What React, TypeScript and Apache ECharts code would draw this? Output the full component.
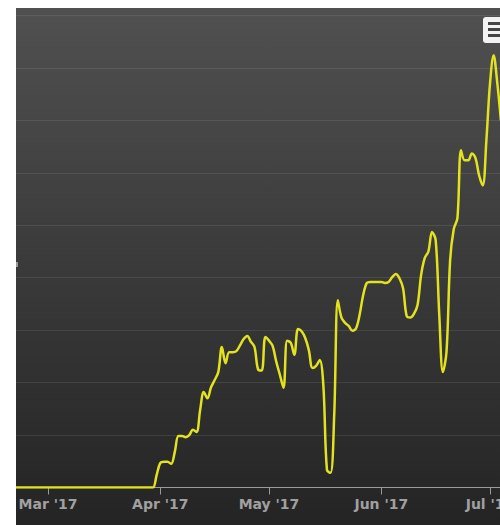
import React, { useEffect, useRef } from "react";
import * as echarts from "echarts";

const DAY = 86400000;
const startDate = Date.UTC(2017, 1, 19); // first daily point: 19 Feb 2017

// daily values (arbitrary units, one grid step = 1)
const values: number[] = [
  0, 0, 0, 0, 0, 0, 0, 0, 0, 0,
  0, 0, 0, 0, 0, 0, 0, 0, 0, 0,
  0, 0, 0, 0, 0, 0, 0, 0, 0, 0,
  0, 0, 0, 0, 0, 0, 0, 0, 0, 0,
  0.24, 0.47, 0.49, 0.49, 0.45, 0.68, 0.98, 0.98, 0.96, 1.0,
  1.1, 1.06, 1.48, 1.82, 1.7, 1.91, 2.05, 2.2, 2.68, 2.37,
  2.58, 2.58, 2.6, 2.71, 2.83, 2.89, 2.78, 2.68, 2.25, 2.23,
  2.87, 2.8, 2.7, 2.4, 2.15, 1.9, 2.8, 2.76, 2.53, 3.02,
  2.98, 2.85, 2.62, 2.28, 2.32, 2.43, 1.95, 0.33, 0.28, 1.38,
  3.57, 3.24, 3.14, 3.08, 2.99, 3.03, 3.29, 3.67, 3.9, 3.92,
  3.92, 3.92, 3.92, 3.9, 3.92, 4.01, 4.07, 3.99, 3.8, 3.27,
  3.24, 3.31, 3.48, 4.06, 4.38, 4.5, 4.87, 4.72, 3.29, 2.2,
  2.59, 4.34, 4.93, 5.13, 6.43, 6.24, 6.24, 6.37, 6.28, 5.95,
  5.76, 6.62, 7.7, 8.24, 7.72, 7.0,
];

const monthTicks: number[] = [
  Date.UTC(2017, 2, 1),
  Date.UTC(2017, 3, 1),
  Date.UTC(2017, 4, 1),
  Date.UTC(2017, 5, 1),
  Date.UTC(2017, 6, 1),
];
const monthLabels: string[] = ["Mar '17", "Apr '17", "May '17", "Jun '17", "Jul '17"];

const xMin = Date.UTC(2017, 2, 1) - 8.83 * DAY;
const xMax = Date.UTC(2017, 6, 1) + 2.76 * DAY;

export default function App() {
  const ref = useRef<HTMLDivElement>(null);

  useEffect(() => {
    if (!ref.current) return;
    const chart = echarts.init(ref.current, undefined, { renderer: "svg" });
    const data = values.map((v, i) => [startDate + i * DAY, v]);
    chart.setOption({
      animation: false,
      backgroundColor: new echarts.graphic.LinearGradient(0, 0, 0, 1, [
        { offset: 0, color: "#505050" },
        { offset: 1, color: "#242424" },
      ]),
      grid: {
        left: 0,
        right: 0,
        top: 7.5,
        bottom: 37.5,
        containLabel: false,
        outerBoundsMode: "none",
      },
      xAxis: {
        type: "value",
        min: xMin,
        max: xMax,
        axisLine: { show: true, lineStyle: { color: "#9a9a9a", width: 1 } },
        axisTick: {
          show: true,
          length: 7,
          customValues: monthTicks,
          lineStyle: { color: "#9a9a9a" },
        },
        axisLabel: {
          customValues: monthTicks,
          showMinLabel: true,
          showMaxLabel: true,
          color: "#a0a0a0",
          fontFamily: "DejaVu Sans",
          fontWeight: "bold",
          fontSize: 14,
          margin: 9,
          hideOverlap: false,
          formatter: (val: number) => {
            const idx = monthTicks.findIndex((t) => Math.abs(t - val) < DAY / 2);
            return idx >= 0 ? monthLabels[idx] : "";
          },
        },
        splitLine: { show: false },
      },
      yAxis: {
        type: "value",
        min: 0,
        max: 9,
        interval: 1,
        axisLabel: { show: false },
        axisLine: { show: false },
        axisTick: { show: false },
        splitLine: { show: true, lineStyle: { color: "rgba(255,255,255,0.09)", width: 1 } },
      },
      series: [
        {
          type: "line",
          data,
          showSymbol: false,
          smooth: 0.35,
          clip: true,
          lineStyle: { color: "#e2e21e", width: 2.5 },
        },
      ],
      graphic: [
        {
          type: "rect",
          left: 0,
          top: 254,
          shape: { width: 2, height: 5 },
          style: { fill: "#9a9a9a" },
          silent: true,
        },
        {
          type: "group",
          x: 467,
          y: 9,
          children: [
            {
              type: "rect",
              shape: { x: 0, y: 0, width: 30, height: 26, r: 3 },
              style: { fill: "#f2f2f2" },
            },
            {
              type: "line",
              shape: { x1: 5, y1: 6.5, x2: 30, y2: 6.5 },
              style: { stroke: "#444", lineWidth: 3 },
            },
            {
              type: "line",
              shape: { x1: 5, y1: 12.5, x2: 30, y2: 12.5 },
              style: { stroke: "#444", lineWidth: 3 },
            },
            {
              type: "line",
              shape: { x1: 5, y1: 18.5, x2: 30, y2: 18.5 },
              style: { stroke: "#444", lineWidth: 3 },
            },
          ],
        },
      ],
    });
    return () => chart.dispose();
  }, []);

  return (
    <div
      ref={ref}
      style={{ position: "fixed", left: 16, top: 8, width: 484, height: 517 }}
    />
  );
}
